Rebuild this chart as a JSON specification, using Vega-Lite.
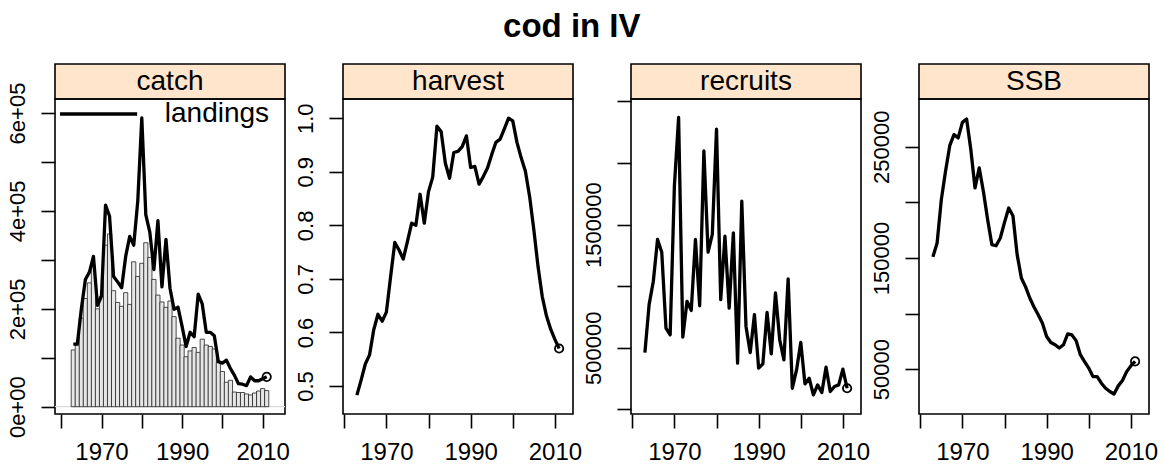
{
  "$schema": "https://vega.github.io/schema/vega-lite/v6.json",
  "padding": {"left": 5, "top": 11, "right": 5, "bottom": 2},
  "title": {"text": "cod in IV", "fontSize": 33, "fontWeight": "bold", "font": "Liberation Sans", "anchor": "middle", "dx": -10, "offset": 19, "color": "black"},
  "datasets": {
    "catch": [
      {"year":1963,"value":128000},{"year":1964,"value":128000},{"year":1965,"value":200000},{"year":1966,"value":260000},{"year":1967,"value":275000},{"year":1968,"value":307000},{"year":1969,"value":207000},{"year":1970,"value":226000},{"year":1971,"value":412000},{"year":1972,"value":389000},{"year":1973,"value":266000},{"year":1974,"value":255000},{"year":1975,"value":243000},{"year":1976,"value":307000},{"year":1977,"value":348000},{"year":1978,"value":330000},{"year":1979,"value":420000},{"year":1980,"value":590000},{"year":1981,"value":392000},{"year":1982,"value":356000},{"year":1983,"value":280000},{"year":1984,"value":380000},{"year":1985,"value":245000},{"year":1986,"value":342000},{"year":1987,"value":242000},{"year":1988,"value":199000},{"year":1989,"value":203000},{"year":1990,"value":164000},{"year":1991,"value":123000},{"year":1992,"value":152000},{"year":1993,"value":143000},{"year":1994,"value":230000},{"year":1995,"value":210000},{"year":1996,"value":152000},{"year":1997,"value":152000},{"year":1998,"value":145000},{"year":1999,"value":92000},{"year":2000,"value":89000},{"year":2001,"value":95000},{"year":2002,"value":78000},{"year":2003,"value":64000},{"year":2004,"value":47000},{"year":2005,"value":46000},{"year":2006,"value":43000},{"year":2007,"value":61000},{"year":2008,"value":53000},{"year":2009,"value":53000},{"year":2010,"value":57000},{"year":2011,"value":61000}
    ],
    "landings": [
      {"year":1963,"value":116000},{"year":1964,"value":126000},{"year":1965,"value":181000},{"year":1966,"value":221000},{"year":1967,"value":253000},{"year":1968,"value":288000},{"year":1969,"value":200000},{"year":1970,"value":226000},{"year":1971,"value":330000},{"year":1972,"value":353000},{"year":1973,"value":237000},{"year":1974,"value":213000},{"year":1975,"value":205000},{"year":1976,"value":233000},{"year":1977,"value":209000},{"year":1978,"value":296000},{"year":1979,"value":266000},{"year":1980,"value":293000},{"year":1981,"value":335000},{"year":1982,"value":305000},{"year":1983,"value":260000},{"year":1984,"value":228000},{"year":1985,"value":214000},{"year":1986,"value":203000},{"year":1987,"value":216000},{"year":1988,"value":184000},{"year":1989,"value":140000},{"year":1990,"value":126000},{"year":1991,"value":102000},{"year":1992,"value":114000},{"year":1993,"value":121000},{"year":1994,"value":111000},{"year":1995,"value":138000},{"year":1996,"value":126000},{"year":1997,"value":123000},{"year":1998,"value":118000},{"year":1999,"value":90000},{"year":2000,"value":72000},{"year":2001,"value":50000},{"year":2002,"value":54000},{"year":2003,"value":30000},{"year":2004,"value":29000},{"year":2005,"value":29000},{"year":2006,"value":26000},{"year":2007,"value":24000},{"year":2008,"value":28000},{"year":2009,"value":32000},{"year":2010,"value":37000},{"year":2011,"value":33000}
    ],
    "harvest": [
      {"year":1963,"value":0.483},{"year":1964,"value":0.511},{"year":1965,"value":0.541},{"year":1966,"value":0.558},{"year":1967,"value":0.605},{"year":1968,"value":0.634},{"year":1969,"value":0.621},{"year":1970,"value":0.638},{"year":1971,"value":0.704},{"year":1972,"value":0.768},{"year":1973,"value":0.754},{"year":1974,"value":0.737},{"year":1975,"value":0.770},{"year":1976,"value":0.804},{"year":1977,"value":0.800},{"year":1978,"value":0.858},{"year":1979,"value":0.804},{"year":1980,"value":0.863},{"year":1981,"value":0.890},{"year":1982,"value":0.985},{"year":1983,"value":0.975},{"year":1984,"value":0.916},{"year":1985,"value":0.888},{"year":1986,"value":0.936},{"year":1987,"value":0.938},{"year":1988,"value":0.947},{"year":1989,"value":0.967},{"year":1990,"value":0.908},{"year":1991,"value":0.910},{"year":1992,"value":0.877},{"year":1993,"value":0.891},{"year":1994,"value":0.907},{"year":1995,"value":0.932},{"year":1996,"value":0.955},{"year":1997,"value":0.961},{"year":1998,"value":0.980},{"year":1999,"value":1.000},{"year":2000,"value":0.995},{"year":2001,"value":0.955},{"year":2002,"value":0.926},{"year":2003,"value":0.901},{"year":2004,"value":0.854},{"year":2005,"value":0.792},{"year":2006,"value":0.723},{"year":2007,"value":0.667},{"year":2008,"value":0.631},{"year":2009,"value":0.606},{"year":2010,"value":0.587},{"year":2011,"value":0.570}
    ],
    "recruits": [
      {"year":1963,"value":461000},{"year":1964,"value":850000},{"year":1965,"value":1040000},{"year":1966,"value":1379000},{"year":1967,"value":1276000},{"year":1968,"value":660000},{"year":1969,"value":605000},{"year":1970,"value":1813000},{"year":1971,"value":2370000},{"year":1972,"value":586000},{"year":1973,"value":877000},{"year":1974,"value":803000},{"year":1975,"value":1379000},{"year":1976,"value":841000},{"year":1977,"value":2098000},{"year":1978,"value":1276000},{"year":1979,"value":1420000},{"year":1980,"value":2275000},{"year":1981,"value":890000},{"year":1982,"value":1406000},{"year":1983,"value":822000},{"year":1984,"value":1433000},{"year":1985,"value":375000},{"year":1986,"value":1691000},{"year":1987,"value":673000},{"year":1988,"value":461000},{"year":1989,"value":768000},{"year":1990,"value":334000},{"year":1991,"value":369000},{"year":1992,"value":787000},{"year":1993,"value":451000},{"year":1994,"value":945000},{"year":1995,"value":565000},{"year":1996,"value":402000},{"year":1997,"value":1059000},{"year":1998,"value":171000},{"year":1999,"value":320000},{"year":2000,"value":543000},{"year":2001,"value":206000},{"year":2002,"value":252000},{"year":2003,"value":117000},{"year":2004,"value":198000},{"year":2005,"value":136000},{"year":2006,"value":342000},{"year":2007,"value":144000},{"year":2008,"value":185000},{"year":2009,"value":198000},{"year":2010,"value":326000},{"year":2011,"value":171000}
    ],
    "ssb": [
      {"year":1963,"value":151000},{"year":1964,"value":163500},{"year":1965,"value":202500},{"year":1966,"value":228000},{"year":1967,"value":251000},{"year":1968,"value":261000},{"year":1969,"value":258000},{"year":1970,"value":272000},{"year":1971,"value":275000},{"year":1972,"value":247600},{"year":1973,"value":213000},{"year":1974,"value":231000},{"year":1975,"value":209600},{"year":1976,"value":184500},{"year":1977,"value":162000},{"year":1978,"value":161000},{"year":1979,"value":168000},{"year":1980,"value":182000},{"year":1981,"value":195000},{"year":1982,"value":188000},{"year":1983,"value":153000},{"year":1984,"value":132000},{"year":1985,"value":124000},{"year":1986,"value":114000},{"year":1987,"value":106000},{"year":1988,"value":99000},{"year":1989,"value":91400},{"year":1990,"value":79400},{"year":1991,"value":74000},{"year":1992,"value":72000},{"year":1993,"value":69000},{"year":1994,"value":72000},{"year":1995,"value":81800},{"year":1996,"value":80800},{"year":1997,"value":75700},{"year":1998,"value":63000},{"year":1999,"value":56900},{"year":2000,"value":51000},{"year":2001,"value":43300},{"year":2002,"value":43300},{"year":2003,"value":37400},{"year":2004,"value":32900},{"year":2005,"value":29900},{"year":2006,"value":27700},{"year":2007,"value":35000},{"year":2008,"value":39800},{"year":2009,"value":47800},{"year":2010,"value":53000},{"year":2011,"value":57000}
    ]
  },
  "columns": 4,
  "spacing": {"row": 0, "column": 58},
  "bounds": "flush",
  "concat": [
    {"width": 230, "height": 35, "view": {"fill": "#ffe5cc", "stroke": "black", "strokeWidth": 1.6},
     "data": {"values": [{"panel": "catch"}]},
     "mark": {"type": "text", "fontSize": 28, "font": "Liberation Sans", "color": "black", "baseline": "middle", "align": "center"},
     "encoding": {"text": {"field": "panel"}}},
    {"width": 230, "height": 35, "view": {"fill": "#ffe5cc", "stroke": "black", "strokeWidth": 1.6},
     "data": {"values": [{"panel": "harvest"}]},
     "mark": {"type": "text", "fontSize": 28, "font": "Liberation Sans", "color": "black", "baseline": "middle", "align": "center"},
     "encoding": {"text": {"field": "panel"}}},
    {"width": 230, "height": 35, "view": {"fill": "#ffe5cc", "stroke": "black", "strokeWidth": 1.6},
     "data": {"values": [{"panel": "recruits"}]},
     "mark": {"type": "text", "fontSize": 28, "font": "Liberation Sans", "color": "black", "baseline": "middle", "align": "center"},
     "encoding": {"text": {"field": "panel"}}},
    {"width": 230, "height": 35, "view": {"fill": "#ffe5cc", "stroke": "black", "strokeWidth": 1.6},
     "data": {"values": [{"panel": "SSB"}]},
     "mark": {"type": "text", "fontSize": 28, "font": "Liberation Sans", "color": "black", "baseline": "middle", "align": "center"},
     "encoding": {"text": {"field": "panel"}}},
    {"width": 230, "height": 315,
     "layer": [
       {"data": {"values": [{"zero": 0}]},
        "mark": {"type": "rule", "color": "#d9d9d9", "strokeWidth": 1.2},
        "encoding": {"y": {"field": "zero", "type": "quantitative"}}},
       {"data": {"name": "landings"},
        "mark": {"type": "bar", "width": 4.2, "fill": "#e6e6e6", "stroke": "#222222", "strokeWidth": 0.8},
        "encoding": {
          "x": {"field": "year", "type": "quantitative", "scale": {"domain": [1959.7, 2014.3], "nice": false, "zero": false},
                "axis": {"values": [1960,1970,1980,1990,2000,2010], "format": "d", "labelExpr": "datum.value % 20 == 10 ? datum.label : ''", "title": null}},
          "y": {"field": "value", "type": "quantitative", "scale": {"domain": [-14900, 628600], "nice": false, "zero": false},
                "axis": {"values": [0,100000,200000,300000,400000,500000,600000], "labelExpr": "datum.value % 200000 == 0 ? (datum.value == 0 ? '0e+00' : (datum.value/100000) + 'e+05') : ''", "title": null}},
          "y2": {"datum": 0}}},
       {"data": {"name": "catch"},
        "mark": {"type": "line", "color": "black", "strokeWidth": 3.3, "strokeJoin": "round"},
        "encoding": {"x": {"field": "year", "type": "quantitative"}, "y": {"field": "value", "type": "quantitative"}}},
       {"data": {"name": "catch"},
        "transform": [{"filter": "datum.year == 2011"}],
        "mark": {"type": "point", "shape": "circle", "filled": false, "size": 70, "color": "black", "strokeWidth": 1.8, "opacity": 1},
        "encoding": {"x": {"field": "year", "type": "quantitative"}, "y": {"field": "value", "type": "quantitative"}}},
       {"data": {"values": [{"label": "landings"}]},
        "mark": {"type": "rule", "color": "black", "strokeWidth": 3.3},
        "encoding": {"x": {"datum": 1959.7}, "x2": {"datum": 1978.84}, "y": {"datum": 598000}}},
       {"data": {"values": [{"label": "landings"}]},
        "mark": {"type": "text", "fontSize": 28, "font": "Liberation Sans", "color": "black", "align": "right", "baseline": "middle"},
        "encoding": {"x": {"datum": 2011.6}, "y": {"datum": 598000}, "text": {"field": "label"}}}
     ]},
    {"width": 230, "height": 315,
     "layer": [
       {"data": {"name": "harvest"},
        "mark": {"type": "line", "color": "black", "strokeWidth": 3.3, "strokeJoin": "round"},
        "encoding": {
          "x": {"field": "year", "type": "quantitative", "scale": {"domain": [1959.7, 2014.3], "nice": false, "zero": false},
                "axis": {"values": [1960,1970,1980,1990,2000,2010], "format": "d", "labelExpr": "datum.value % 20 == 10 ? datum.label : ''", "title": null}},
          "y": {"field": "value", "type": "quantitative", "scale": {"domain": [0.4477, 1.0359], "nice": false, "zero": false},
                "axis": {"values": [0.5,0.6,0.7,0.8,0.9,1.0], "format": ".1f", "title": null}}}},
       {"data": {"name": "harvest"},
        "transform": [{"filter": "datum.year == 2011"}],
        "mark": {"type": "point", "shape": "circle", "filled": false, "size": 70, "color": "black", "strokeWidth": 1.8, "opacity": 1},
        "encoding": {"x": {"field": "year", "type": "quantitative"}, "y": {"field": "value", "type": "quantitative"}}}
     ]},
    {"width": 230, "height": 315,
     "layer": [
       {"data": {"name": "recruits"},
        "mark": {"type": "line", "color": "black", "strokeWidth": 3.3, "strokeJoin": "round"},
        "encoding": {
          "x": {"field": "year", "type": "quantitative", "scale": {"domain": [1959.7, 2014.3], "nice": false, "zero": false},
                "axis": {"values": [1960,1970,1980,1990,2000,2010], "format": "d", "labelExpr": "datum.value % 20 == 10 ? datum.label : ''", "title": null}},
          "y": {"field": "value", "type": "quantitative", "scale": {"domain": [-38200, 2520000], "nice": false, "zero": false},
                "axis": {"values": [0,500000,1000000,1500000,2000000,2500000], "labelExpr": "(datum.value == 500000 || datum.value == 1500000) ? format(datum.value, 'd') : ''", "title": null}}}},
       {"data": {"name": "recruits"},
        "transform": [{"filter": "datum.year == 2011"}],
        "mark": {"type": "point", "shape": "circle", "filled": false, "size": 70, "color": "black", "strokeWidth": 1.8, "opacity": 1},
        "encoding": {"x": {"field": "year", "type": "quantitative"}, "y": {"field": "value", "type": "quantitative"}}}
     ]},
    {"width": 230, "height": 315,
     "layer": [
       {"data": {"name": "ssb"},
        "mark": {"type": "line", "color": "black", "strokeWidth": 3.3, "strokeJoin": "round"},
        "encoding": {
          "x": {"field": "year", "type": "quantitative", "scale": {"domain": [1959.7, 2014.3], "nice": false, "zero": false},
                "axis": {"values": [1960,1970,1980,1990,2000,2010], "format": "d", "labelExpr": "datum.value % 20 == 10 ? datum.label : ''", "title": null}},
          "y": {"field": "value", "type": "quantitative", "scale": {"domain": [9700, 293000], "nice": false, "zero": false},
                "axis": {"values": [50000,100000,150000,200000,250000], "labelExpr": "datum.value % 100000 == 50000 ? format(datum.value, 'd') : ''", "title": null}}}},
       {"data": {"name": "ssb"},
        "transform": [{"filter": "datum.year == 2011"}],
        "mark": {"type": "point", "shape": "circle", "filled": false, "size": 70, "color": "black", "strokeWidth": 1.8, "opacity": 1},
        "encoding": {"x": {"field": "year", "type": "quantitative"}, "y": {"field": "value", "type": "quantitative"}}}
     ]}
  ],
  "config": {
    "font": "Liberation Sans",
    "background": "white",
    "view": {"stroke": "black", "strokeWidth": 1.6},
    "axis": {"domain": false, "grid": false, "tickColor": "black", "tickWidth": 1.6, "tickSize": 14, "labelColor": "black", "labelFont": "Liberation Sans", "labelFlush": false, "labelOverlap": false, "labelBound": false},
    "axisX": {"labelFontSize": 24, "labelPadding": 12, "labelAngle": 0},
    "axisY": {"labelFontSize": 22, "labelAngle": 270, "labelAlign": "center", "labelBaseline": "bottom", "labelPadding": 12}
  }
}
